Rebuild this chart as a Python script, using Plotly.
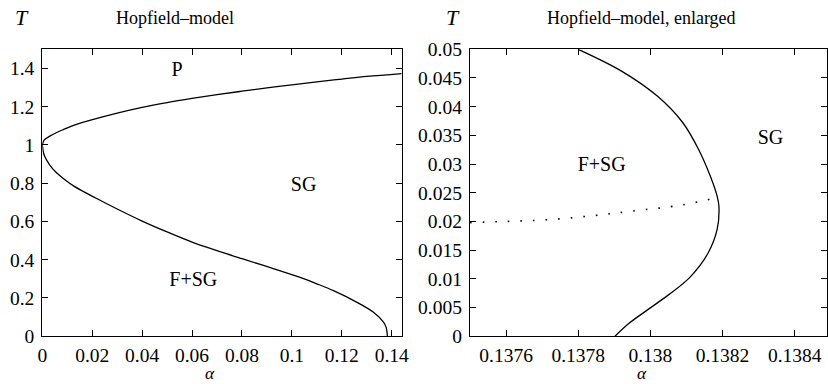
import plotly.graph_objects as go

W, H = 828, 384

# ---- Left panel data (Hopfield model) ----
alpha_upper = [0.0, 0.0005, 0.001, 0.002, 0.003, 0.005, 0.0084, 0.012, 0.019, 0.03, 0.04, 0.05,
               0.06, 0.07, 0.08, 0.09, 0.10, 0.11, 0.12, 0.13, 0.144]
T_upper = [1.0, 1.020, 1.029, 1.038, 1.046, 1.060, 1.080, 1.100, 1.128, 1.166, 1.196, 1.221,
           1.243, 1.263, 1.281, 1.298, 1.314, 1.330, 1.344, 1.358, 1.373]

alpha_lower = [0.0, 0.0005, 0.001, 0.002, 0.003, 0.0055, 0.0084, 0.013, 0.0218, 0.030,
               0.040, 0.050, 0.060, 0.070, 0.080, 0.0917, 0.1033, 0.1100, 0.1167, 0.1261,
               0.1327, 0.1367, 0.1378, 0.1381, 0.1383]
T_lower = [1.0, 0.958, 0.940, 0.915, 0.895, 0.857, 0.825, 0.782, 0.720, 0.665,
           0.602, 0.545, 0.492, 0.447, 0.405, 0.357, 0.307, 0.274, 0.238, 0.177,
           0.125, 0.073, 0.045, 0.021, 0.0]

left_labels = ["P", "SG", "F+SG"]
left_label_x = [0.054, 0.1047, 0.0605]
left_label_y = [1.385, 0.785, 0.29]

left_xticks = [0, 0.02, 0.04, 0.06, 0.08, 0.10, 0.12, 0.14]
left_xticktext = ["0", "0.02", "0.04", "0.06", "0.08", "0.1", "0.12", "0.14"]
left_yticks = [0, 0.2, 0.4, 0.6, 0.8, 1.0, 1.2, 1.4]
left_yticktext = ["0", "0.2", "0.4", "0.6", "0.8", "1", "1.2", "1.4"]

# ---- Right panel data (enlarged) ----
alpha_solid = [0.13780, 0.13792, 0.13802, 0.13809, 0.138134, 0.138166, 0.138185, 0.13819,
               0.138185, 0.13816, 0.13811, 0.13805, 0.13799, 0.13794, 0.137902]
T_solid = [0.0500, 0.0462, 0.0418, 0.0372, 0.0325, 0.0279, 0.0244, 0.0226,
           0.0186, 0.0145, 0.0103, 0.0072, 0.0045, 0.0022, 0.0]

alpha_dotted = [0.13750, 0.13760, 0.137716, 0.13784, 0.13795, 0.13809, 0.13818]
T_dotted = [0.0198, 0.0200, 0.0203, 0.0210, 0.0218, 0.0229, 0.0241]

right_labels = ["F+SG", "SG"]
right_label_x = [0.137865, 0.138333]
right_label_y = [0.0296, 0.0343]

right_xticks = [0.1376, 0.1378, 0.1380, 0.1382, 0.1384]
right_xticktext = ["0.1376", "0.1378", "0.138", "0.1382", "0.1384"]
right_yticks = [0, 0.005, 0.01, 0.015, 0.02, 0.025, 0.03, 0.035, 0.04, 0.045, 0.05]
right_yticktext = ["0", "0.005", "0.01", "0.015", "0.02", "0.025", "0.03", "0.035", "0.04", "0.045", "0.05"]

FONT = "Liberation Serif"
LINE = dict(color="black", width=1.3)

fig = go.Figure()
fig.add_trace(go.Scatter(x=alpha_upper, y=T_upper, mode="lines", line=dict(LINE, shape="spline"),
                         xaxis="x", yaxis="y", showlegend=False))
fig.add_trace(go.Scatter(x=alpha_lower, y=T_lower, mode="lines", line=dict(LINE, shape="spline"),
                         xaxis="x", yaxis="y", showlegend=False))
fig.add_trace(go.Scatter(x=left_label_x, y=left_label_y, mode="text", text=left_labels,
                         textfont=dict(family=FONT, size=20, color="black"),
                         xaxis="x", yaxis="y", showlegend=False))

fig.add_trace(go.Scatter(x=alpha_solid, y=T_solid, mode="lines", line=dict(LINE, shape="spline"),
                         xaxis="x2", yaxis="y2", showlegend=False))
fig.add_trace(go.Scatter(x=alpha_dotted, y=T_dotted, mode="lines",
                         line=dict(color="black", width=1.6, dash="1.6px,11px", shape="spline"),
                         xaxis="x2", yaxis="y2", showlegend=False))
fig.add_trace(go.Scatter(x=right_label_x, y=right_label_y, mode="text", text=right_labels,
                         textfont=dict(family=FONT, size=20, color="black"),
                         xaxis="x2", yaxis="y2", showlegend=False))

ax_common = dict(showgrid=False, zeroline=False, showline=True, linecolor="black", linewidth=1.3,
                 mirror="ticks", ticks="inside", ticklen=6, tickwidth=1.2, tickcolor="black",
                 automargin=False,
                 tickfont=dict(family=FONT, size=19.5, color="black"))

ydom = [1 - 336.2 / H, 1 - 49.3 / H]


def ann(text, px, py, size, yanchor="middle"):
    return dict(text=text, x=px / W, y=1 - py / H, xref="paper", yref="paper",
                xanchor="center", yanchor=yanchor, showarrow=False, borderpad=0,
                font=dict(family=FONT, size=size, color="black"))


fig.update_layout(
    width=W, height=H,
    margin=dict(l=0, r=0, t=0, b=0, autoexpand=False),
    paper_bgcolor="white", plot_bgcolor="white",
    xaxis=dict(ax_common, domain=[42.3 / W, 401.7 / W], range=[0, 0.144], anchor="y",
               tickvals=left_xticks, ticktext=left_xticktext, ticklabelstandoff=1),
    yaxis=dict(ax_common, domain=ydom, range=[0, 1.5], anchor="x",
               tickvals=left_yticks, ticktext=left_yticktext, ticklabelstandoff=3),
    xaxis2=dict(ax_common, domain=[470 / W, 0.999], range=[0.1375, 0.13849], anchor="y2",
                tickvals=right_xticks, ticktext=right_xticktext, ticklabelstandoff=1),
    yaxis2=dict(ax_common, domain=ydom, range=[0, 0.05], anchor="x2",
                tickvals=right_yticks, ticktext=right_yticktext, ticklabelstandoff=3),
    annotations=[
        ann("<i>T</i>", 22, 17, 22),
        ann("Hopfield–model", 175, 18, 18),
        ann("<i>T</i>", 453, 17, 22),
        ann("Hopfield–model, enlarged", 641, 18, 18),
        ann("<i>α</i>", 210, 384, 17.5, "bottom"),
        ann("<i>α</i>", 642, 384, 17.5, "bottom"),
    ],
)

fig.write_html("out.html", config={"displayModeBar": False},
               post_script="document.body.style.margin='0';document.body.style.padding='0';")
